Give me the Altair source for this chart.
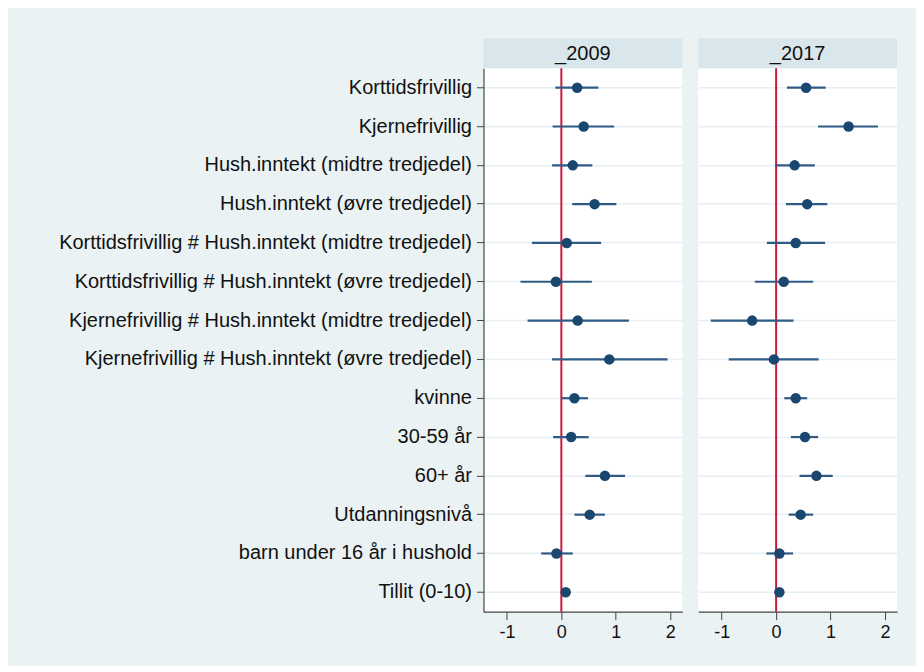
import altair as alt
import pandas as pd

labels = [
    "Korttidsfrivillig",
    "Kjernefrivillig",
    "Hush.inntekt (midtre tredjedel)",
    "Hush.inntekt (øvre tredjedel)",
    "Korttidsfrivillig # Hush.inntekt (midtre tredjedel)",
    "Korttidsfrivillig # Hush.inntekt (øvre tredjedel)",
    "Kjernefrivillig # Hush.inntekt (midtre tredjedel)",
    "Kjernefrivillig # Hush.inntekt (øvre tredjedel)",
    "kvinne",
    "30-59 år",
    "60+ år",
    "Utdanningsnivå",
    "barn under 16 år i hushold",
    "Tillit (0-10)",
]

coef_2009 = [0.29, 0.41, 0.21, 0.61, 0.10, -0.10, 0.30, 0.88, 0.24, 0.18, 0.80, 0.52, -0.09, 0.08]
lo_2009 = [-0.11, -0.16, -0.17, 0.20, -0.54, -0.75, -0.62, -0.17, 0.01, -0.15, 0.44, 0.24, -0.37, 0.05]
hi_2009 = [0.68, 0.97, 0.57, 1.01, 0.73, 0.56, 1.24, 1.95, 0.49, 0.50, 1.17, 0.80, 0.21, 0.11]

coef_2017 = [0.55, 1.33, 0.34, 0.57, 0.36, 0.14, -0.44, -0.04, 0.36, 0.53, 0.74, 0.45, 0.06, 0.06]
lo_2017 = [0.20, 0.77, -0.02, 0.18, -0.17, -0.39, -1.20, -0.87, 0.15, 0.27, 0.43, 0.23, -0.18, 0.03]
hi_2017 = [0.91, 1.87, 0.71, 0.94, 0.90, 0.68, 0.32, 0.78, 0.57, 0.77, 1.04, 0.68, 0.31, 0.09]

x_ticks = [-1, 0, 1, 2]
x_domain = [-1.43, 2.22]

FONT = "Liberation Sans"
W = 199
H = 544
NAVY = "#1A476F"
LINE = "#2F5B86"
RED = "#C8193F"
GRID = "#E8EFF1"
AXIS = "#444444"


def panel(title, coef, lo, hi, first):
    df = pd.DataFrame({"label": labels, "coef": coef, "lo": lo, "hi": hi})
    xscale = alt.Scale(domain=x_domain, nice=False, zero=False)
    xaxis = alt.Axis(values=x_ticks, title=None, grid=False, domainColor=AXIS,
                     tickColor=AXIS, tickSize=8, labelFontSize=18, labelFont=FONT,
                     labelColor="#111", labelPadding=4, domainWidth=1.2,
                     labelExpr="'' + datum.value")
    if first:
        yaxis = alt.Axis(title=None, grid=True, gridColor=GRID, gridWidth=1.5,
                         domainColor=AXIS, tickColor=AXIS, tickSize=7,
                         labelFontSize=20, labelFont=FONT, labelColor="#111",
                         labelPadding=5, labelLimit=600, domainWidth=1.2)
    else:
        yaxis = alt.Axis(title=None, grid=True, gridColor=GRID, gridWidth=1.5,
                         labels=False, ticks=False, domain=False)
    yenc = alt.Y("label:N", sort=labels,
                 scale=alt.Scale(type="band", paddingInner=0, paddingOuter=0),
                 axis=yaxis)

    base = alt.Chart(df)
    zero = alt.Chart(pd.DataFrame({"x": [0]})).mark_rule(color=RED, strokeWidth=2).encode(
        x=alt.X("x:Q", scale=xscale, axis=xaxis)
    )
    ci = base.mark_rule(color=LINE, strokeWidth=2.2).encode(
        x=alt.X("lo:Q", scale=xscale, axis=xaxis), x2="hi:Q", y=yenc
    )
    pts = base.mark_circle(color=NAVY, size=110, opacity=1).encode(
        x=alt.X("coef:Q", scale=xscale, axis=xaxis), y=yenc
    )
    hdr_df = pd.DataFrame({"t": [title]})
    hdr = alt.Chart(hdr_df).mark_rect(color="#D9E6EB").encode(
        x=alt.value(0), x2=alt.value(W), y=alt.value(-30), y2=alt.value(0)
    )
    hdr_text = alt.Chart(hdr_df).mark_text(
        font=FONT, fontSize=20, color="#111", baseline="middle", align="center"
    ).encode(text="t:N", x=alt.value(W / 2), y=alt.value(-14))
    return alt.layer(hdr, hdr_text, zero, ci, pts).properties(
        width=W, height=H, view=alt.ViewBackground(fill="white", stroke=None)
    )


p1 = panel("_2009", coef_2009, lo_2009, hi_2009, True)
p2 = panel("_2017", coef_2017, lo_2017, hi_2017, False)

chart = alt.hconcat(p1, p2, spacing=16).properties(
    background="#EAF2F3",
    padding={"left": 50, "top": 30, "right": 19, "bottom": 24},
).configure_view(stroke=None)

chart.save("out.html", embed_options={"renderer": "svg", "actions": False})
